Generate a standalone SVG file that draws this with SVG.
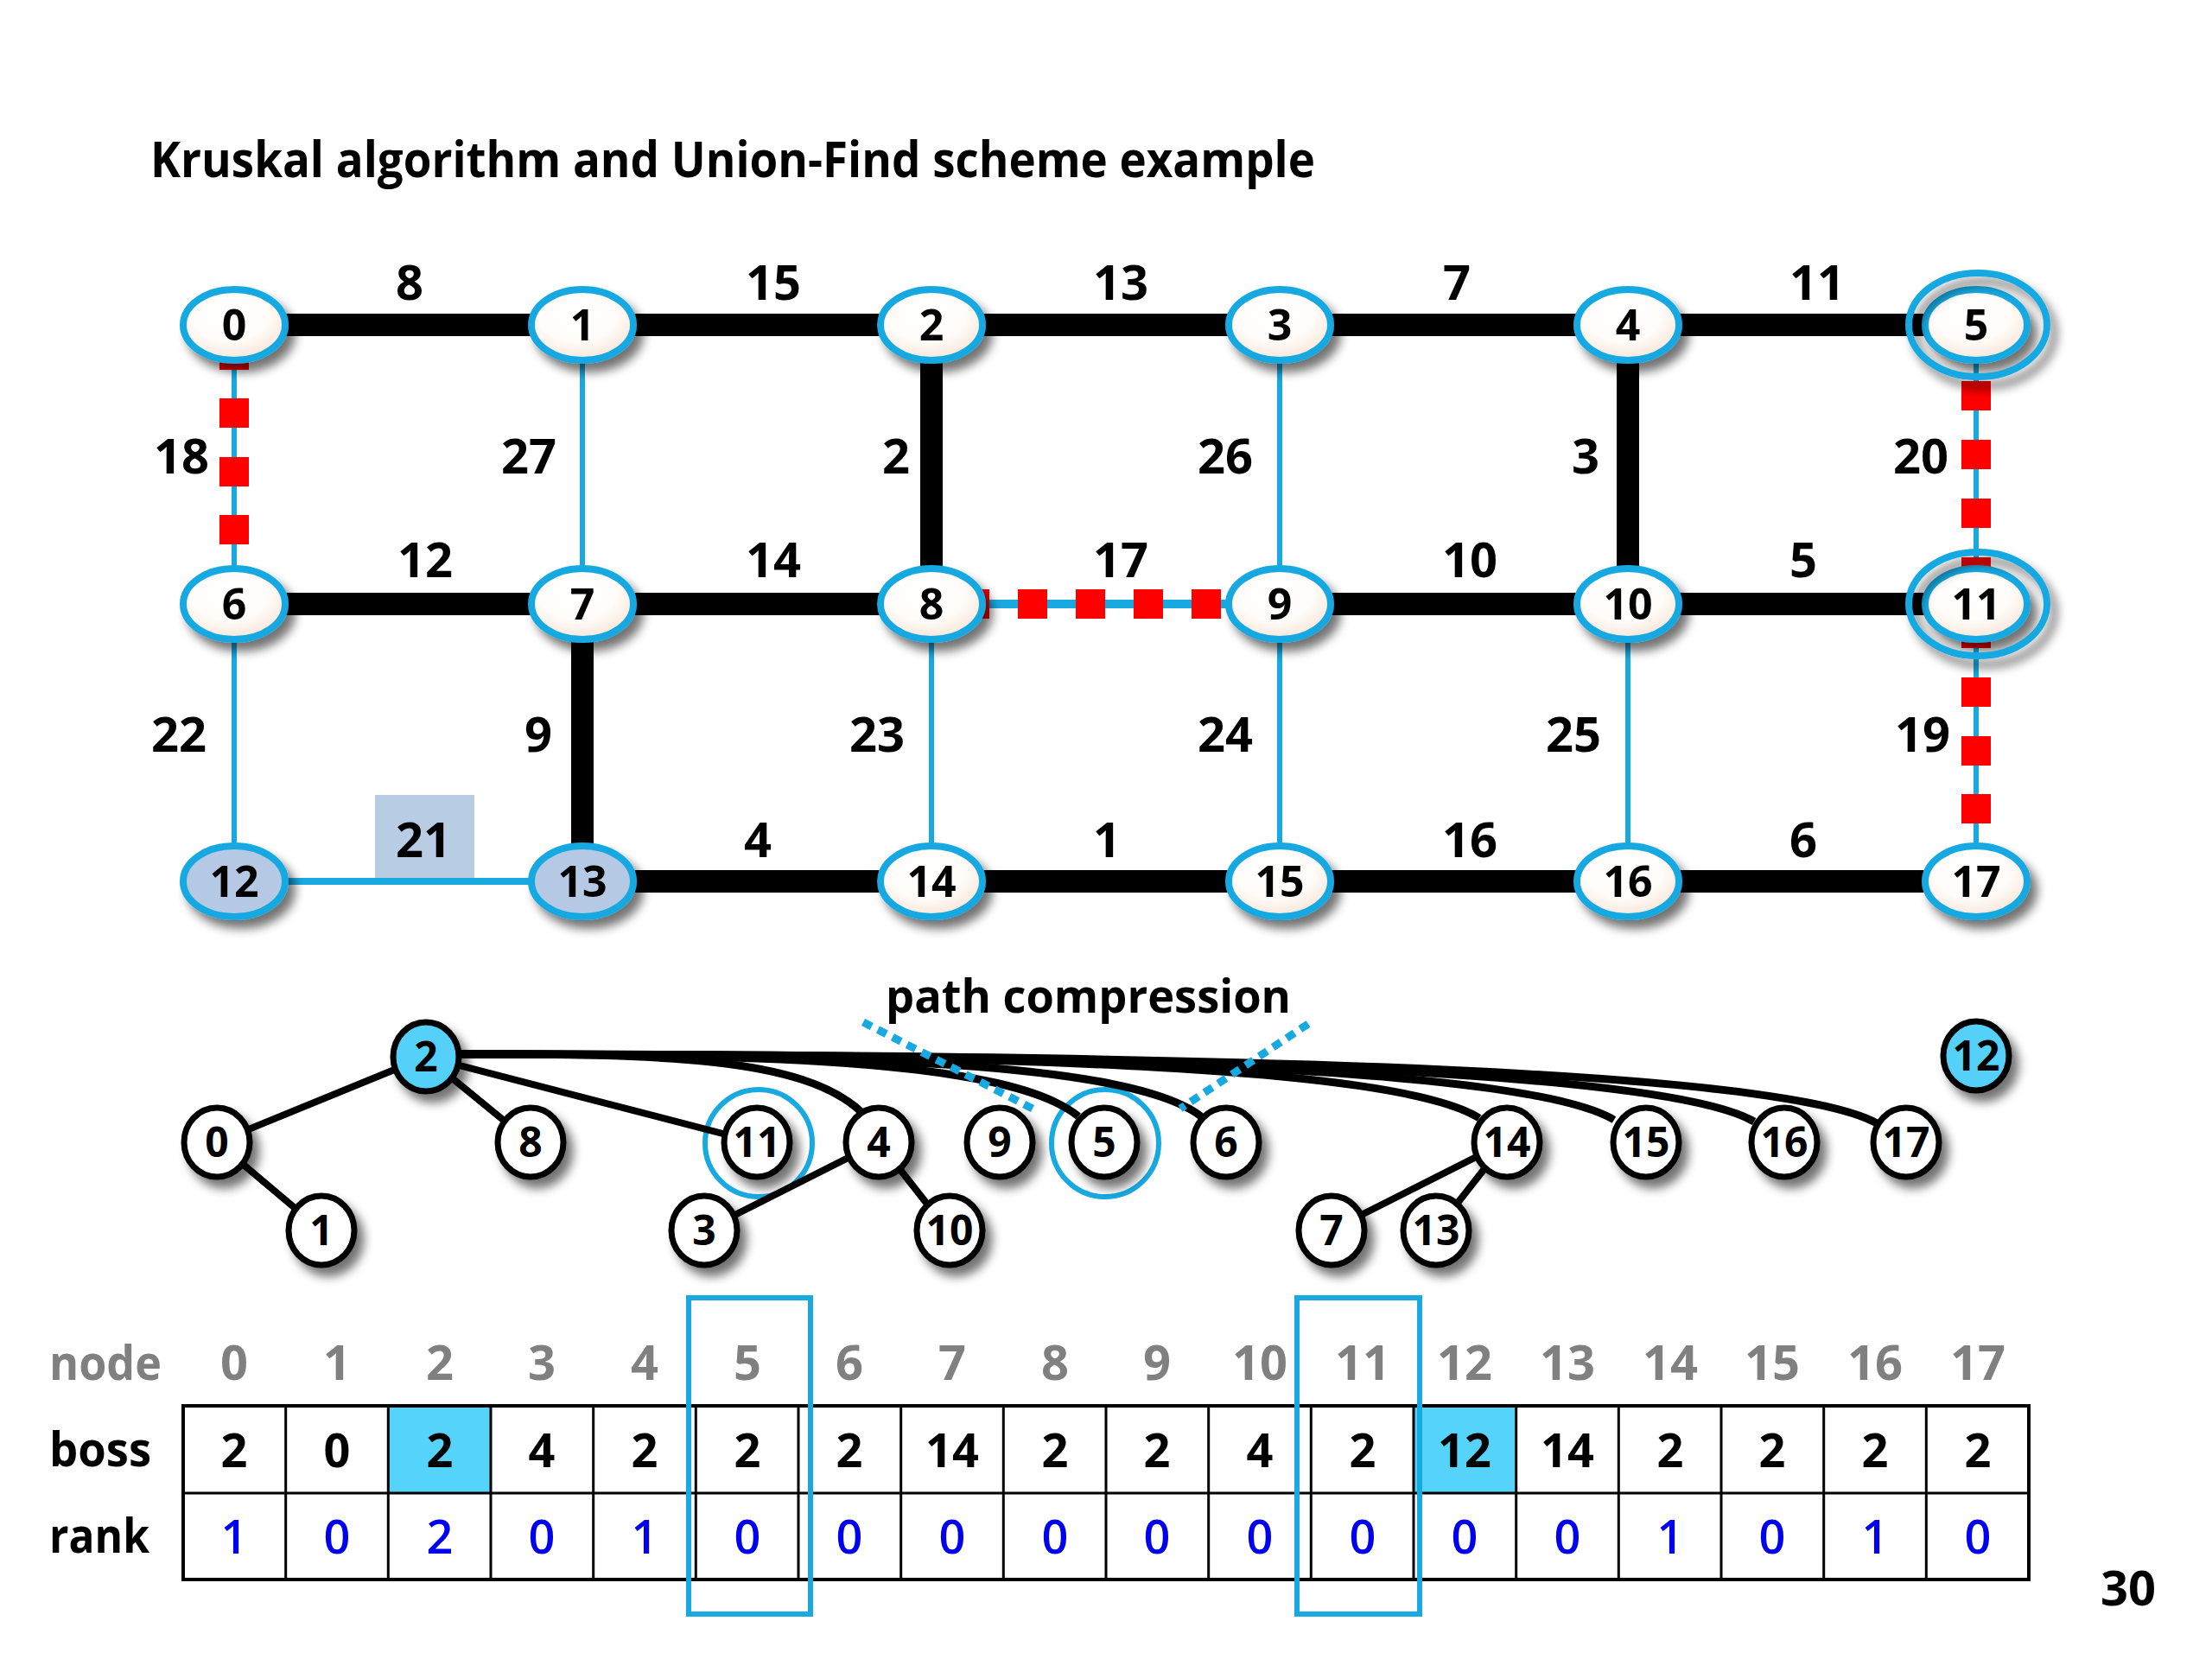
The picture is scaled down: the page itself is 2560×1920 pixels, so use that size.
<svg xmlns="http://www.w3.org/2000/svg" width="2560" height="1920" viewBox="0 0 2560 1920">
<defs>
<radialGradient id="peach" cx="45%" cy="35%" r="70%">
<stop offset="0" stop-color="#FFFFFF"/>
<stop offset="0.55" stop-color="#FFFCF9"/>
<stop offset="1" stop-color="#F6E2D3"/>
</radialGradient>
<filter id="sh" x="-40%" y="-40%" width="190%" height="190%">
<feGaussianBlur in="SourceAlpha" stdDeviation="6"/>
<feOffset dx="8" dy="10" result="o"/>
<feComponentTransfer><feFuncA type="linear" slope="0.55"/></feComponentTransfer>
<feMerge><feMergeNode/><feMergeNode in="SourceGraphic"/></feMerge>
</filter>
<filter id="rsh" x="-30%" y="-30%" width="160%" height="160%">
<feGaussianBlur in="SourceAlpha" stdDeviation="3"/>
<feOffset dx="5" dy="6" result="o"/>
<feComponentTransfer><feFuncA type="linear" slope="0.45"/></feComponentTransfer>
<feMerge><feMergeNode/><feMergeNode in="SourceGraphic"/></feMerge>
</filter>
</defs>
<style>
text{font-family:"Open Sans","Noto Sans","Liberation Sans",sans-serif;font-weight:bold;}
.blk{stroke:#000;stroke-width:26;fill:none;}
.cy{stroke:#18A9E1;stroke-width:6;fill:none;}
.rd{fill:#FF0000;}
.w{font-size:56px;text-anchor:middle;fill:#000;}
.gn ellipse{fill:url(#peach);stroke:#18A9E1;stroke-width:8;filter:url(#sh);}
.gn.sel ellipse{fill:#B6C9E4;}
.gn text{font-size:50px;text-anchor:middle;fill:#000;}
.ring{fill:none;stroke:#18A9E1;stroke-width:6;filter:url(#rsh);}
.te{stroke:#000;stroke-width:8;fill:none;stroke-linecap:round;}
.tc{stroke:#000;stroke-width:9;fill:none;}
.tn ellipse{fill:#fff;stroke:#000;stroke-width:7;filter:url(#sh);}
.tn.root ellipse{fill:#55D0F8;}
.tn text{font-size:48px;text-anchor:middle;fill:#000;}
.tring{fill:none;stroke:#18A9E1;stroke-width:6;}
.dot{stroke:#18A9E1;stroke-width:9;stroke-dasharray:11 8;fill:none;}
.hd{font-size:56px;text-anchor:middle;fill:#808080;}
.bv{font-size:54px;text-anchor:middle;fill:#000;}
.rv{font-size:54px;text-anchor:middle;fill:#0000EE;font-weight:600;}
.lab{font-size:56px;fill:#000;}
.cell{fill:#fff;stroke:#000;stroke-width:3;}
.hl{fill:#55D3FB;}
.colbox{fill:none;stroke:#18A9E1;stroke-width:6;}
</style>
<rect width="2560" height="1920" fill="#fff"/>
<text id="title" x="174" y="205" style="font-size:57px" textLength="1348" lengthAdjust="spacingAndGlyphs">Kruskal algorithm and Union-Find scheme example</text>

<g id="connectors">
<g id="grid-edges">
<line class="cy" x1="674" y1="376" x2="674" y2="699"/>
<line class="cy" x1="1481" y1="376" x2="1481" y2="699"/>
<line class="cy" x1="271" y1="376" x2="271" y2="699"/>
<line class="cy" x1="2287" y1="376" x2="2287" y2="699"/>
<line class="cy" x1="271" y1="699" x2="271" y2="1020"/>
<line class="cy" x1="1078" y1="699" x2="1078" y2="1020"/>
<line class="cy" x1="1481" y1="699" x2="1481" y2="1020"/>
<line class="cy" x1="1884" y1="699" x2="1884" y2="1020"/>
<line class="cy" x1="2287" y1="699" x2="2287" y2="1020"/>
<line class="cy" x1="1078" y1="699" x2="1481" y2="699" style="stroke-width:10"/>
<line class="cy" x1="271" y1="1020" x2="674" y2="1020" style="stroke-width:8"/>
<rect class="rd" x="254" y="394" width="34" height="34"/>
<rect class="rd" x="254" y="461" width="34" height="34"/>
<rect class="rd" x="254" y="529" width="34" height="34"/>
<rect class="rd" x="254" y="596" width="34" height="34"/>
<rect class="rd" x="2270" y="441" width="34" height="34"/>
<rect class="rd" x="2270" y="509" width="34" height="34"/>
<rect class="rd" x="2270" y="577" width="34" height="34"/>
<rect class="rd" x="2270" y="645" width="34" height="34"/>
<rect class="rd" x="2270" y="716" width="34" height="34"/>
<rect class="rd" x="2270" y="784" width="34" height="34"/>
<rect class="rd" x="2270" y="852" width="34" height="34"/>
<rect class="rd" x="2270" y="919" width="34" height="34"/>
<rect class="rd" x="1111" y="682" width="34" height="34"/>
<rect class="rd" x="1178" y="682" width="34" height="34"/>
<rect class="rd" x="1245" y="682" width="34" height="34"/>
<rect class="rd" x="1312" y="682" width="34" height="34"/>
<rect class="rd" x="1379" y="682" width="34" height="34"/>
<line class="blk" x1="271" y1="376" x2="2287" y2="376"/>
<line class="blk" x1="271" y1="699" x2="1078" y2="699"/>
<line class="blk" x1="1481" y1="699" x2="2287" y2="699"/>
<line class="blk" x1="674" y1="1020" x2="2287" y2="1020"/>
<line class="blk" x1="1078" y1="376" x2="1078" y2="699"/>
<line class="blk" x1="1884" y1="376" x2="1884" y2="699"/>
<line class="blk" x1="674" y1="699" x2="674" y2="1020"/>
</g>
<g id="tree-edges">
<circle class="tring" cx="878" cy="1323" r="62"/>
<circle class="tring" cx="1279" cy="1323" r="62"/>
<line class="te" x1="493" y1="1223" x2="251" y2="1322"/>
<line class="te" x1="493" y1="1223" x2="614" y2="1322"/>
<line class="te" x1="493" y1="1223" x2="875" y2="1322"/>
<line class="te" x1="251" y1="1322" x2="372" y2="1424"/>
<line class="te" x1="1017" y1="1322" x2="815" y2="1424"/>
<line class="te" x1="1017" y1="1322" x2="1097" y2="1424"/>
<line class="te" x1="1742" y1="1322" x2="1540" y2="1424"/>
<line class="te" x1="1742" y1="1322" x2="1662" y2="1424"/>
<path class="tc" d="M532,1220 C760,1220 930,1222 998,1288"/>
<path class="tc" d="M532,1220 C900,1220 1170,1228 1248,1292"/>
<path class="tc" d="M532,1220 C1000,1220 1310,1230 1390,1292"/>
<path class="tc" d="M532,1220 C1200,1220 1620,1236 1712,1294"/>
<path class="tc" d="M532,1220 C1300,1220 1770,1238 1868,1296"/>
<path class="tc" d="M532,1220 C1400,1220 1930,1240 2030,1298"/>
<path class="tc" d="M532,1220 C1500,1220 2070,1242 2172,1300"/>
<line class="dot" x1="999" y1="1183" x2="1199" y2="1285"/>
<line class="dot" x1="1514" y1="1185" x2="1366" y2="1283"/>
</g>
</g>

<g id="weights">
<text class="w" x="474" y="347">8</text>
<text class="w" x="895" y="347">15</text>
<text class="w" x="1297" y="347">13</text>
<text class="w" x="1686" y="347">7</text>
<text class="w" x="2103" y="347">11</text>
<text class="w" x="210" y="548">18</text>
<text class="w" x="612" y="548">27</text>
<text class="w" x="1037" y="548">2</text>
<text class="w" x="1418" y="548">26</text>
<text class="w" x="1835" y="548">3</text>
<text class="w" x="2223" y="548">20</text>
<text class="w" x="492" y="668">12</text>
<text class="w" x="895" y="668">14</text>
<text class="w" x="1297" y="668">17</text>
<text class="w" x="1701" y="668">10</text>
<text class="w" x="2087" y="668">5</text>
<text class="w" x="207" y="870">22</text>
<text class="w" x="623" y="870">9</text>
<text class="w" x="1015" y="870">23</text>
<text class="w" x="1418" y="870">24</text>
<text class="w" x="1821" y="870">25</text>
<text class="w" x="2225" y="870">19</text>
<rect x="434" y="920" width="115" height="96" fill="#B8CCE4"/>
<text class="w" x="490" y="992">21</text>
<text class="w" x="877" y="992">4</text>
<text class="w" x="1281" y="992">1</text>
<text class="w" x="1701" y="992">16</text>
<text class="w" x="2087" y="992">6</text>
</g>

<g id="grid-nodes">
<g id="g0" class="gn"><ellipse cx="271" cy="376" rx="59" ry="41"/><text x="271" y="394">0</text></g>
<g id="g1" class="gn"><ellipse cx="674" cy="376" rx="59" ry="41"/><text x="674" y="394">1</text></g>
<g id="g2" class="gn"><ellipse cx="1078" cy="376" rx="59" ry="41"/><text x="1078" y="394">2</text></g>
<g id="g3" class="gn"><ellipse cx="1481" cy="376" rx="59" ry="41"/><text x="1481" y="394">3</text></g>
<g id="g4" class="gn"><ellipse cx="1884" cy="376" rx="59" ry="41"/><text x="1884" y="394">4</text></g>
<g id="g5" class="gn"><ellipse cx="2287" cy="376" rx="59" ry="41"/><text x="2287" y="394">5</text><ellipse class="ring" cx="2289" cy="376" rx="80" ry="60" style="fill:none"/></g>
<g id="g6" class="gn"><ellipse cx="271" cy="699" rx="59" ry="41"/><text x="271" y="717">6</text></g>
<g id="g7" class="gn"><ellipse cx="674" cy="699" rx="59" ry="41"/><text x="674" y="717">7</text></g>
<g id="g8" class="gn"><ellipse cx="1078" cy="699" rx="59" ry="41"/><text x="1078" y="717">8</text></g>
<g id="g9" class="gn"><ellipse cx="1481" cy="699" rx="59" ry="41"/><text x="1481" y="717">9</text></g>
<g id="g10" class="gn"><ellipse cx="1884" cy="699" rx="59" ry="41"/><text x="1884" y="717">10</text></g>
<g id="g11" class="gn"><ellipse cx="2287" cy="699" rx="59" ry="41"/><text x="2287" y="717">11</text><ellipse class="ring" cx="2289" cy="699" rx="80" ry="60" style="fill:none"/></g>
<g id="g12" class="gn sel"><ellipse cx="271" cy="1020" rx="59" ry="41"/><text x="271" y="1038">12</text></g>
<g id="g13" class="gn sel"><ellipse cx="674" cy="1020" rx="59" ry="41"/><text x="674" y="1038">13</text></g>
<g id="g14" class="gn"><ellipse cx="1078" cy="1020" rx="59" ry="41"/><text x="1078" y="1038">14</text></g>
<g id="g15" class="gn"><ellipse cx="1481" cy="1020" rx="59" ry="41"/><text x="1481" y="1038">15</text></g>
<g id="g16" class="gn"><ellipse cx="1884" cy="1020" rx="59" ry="41"/><text x="1884" y="1038">16</text></g>
<g id="g17" class="gn"><ellipse cx="2287" cy="1020" rx="59" ry="41"/><text x="2287" y="1038">17</text></g>
</g>

<text id="pc" x="1025" y="1172" style="font-size:53px" textLength="469" lengthAdjust="spacingAndGlyphs">path compression</text>

<g id="tree-nodes">
<g id="t2" class="tn root"><ellipse cx="493" cy="1223" rx="38" ry="40"/><text x="493" y="1240">2</text></g>
<g id="t12" class="tn root"><ellipse cx="2287" cy="1222" rx="38" ry="40"/><text x="2287" y="1239">12</text></g>
<g id="t0" class="tn"><ellipse cx="251" cy="1322" rx="38" ry="40"/><text x="251" y="1339">0</text></g>
<g id="t8" class="tn"><ellipse cx="614" cy="1322" rx="38" ry="40"/><text x="614" y="1339">8</text></g>
<g id="t11" class="tn"><ellipse cx="876" cy="1322" rx="38" ry="40"/><text x="876" y="1339">11</text></g>
<g id="t4" class="tn"><ellipse cx="1017" cy="1322" rx="38" ry="40"/><text x="1017" y="1339">4</text></g>
<g id="t9" class="tn"><ellipse cx="1157" cy="1322" rx="38" ry="40"/><text x="1157" y="1339">9</text></g>
<g id="t5" class="tn"><ellipse cx="1278" cy="1322" rx="38" ry="40"/><text x="1278" y="1339">5</text></g>
<g id="t6" class="tn"><ellipse cx="1419" cy="1322" rx="38" ry="40"/><text x="1419" y="1339">6</text></g>
<g id="t14" class="tn"><ellipse cx="1744" cy="1322" rx="38" ry="40"/><text x="1744" y="1339">14</text></g>
<g id="t15" class="tn"><ellipse cx="1905" cy="1322" rx="38" ry="40"/><text x="1905" y="1339">15</text></g>
<g id="t16" class="tn"><ellipse cx="2065" cy="1322" rx="38" ry="40"/><text x="2065" y="1339">16</text></g>
<g id="t17" class="tn"><ellipse cx="2206" cy="1322" rx="38" ry="40"/><text x="2206" y="1339">17</text></g>
<g id="t1" class="tn"><ellipse cx="372" cy="1424" rx="38" ry="40"/><text x="372" y="1441">1</text></g>
<g id="t3" class="tn"><ellipse cx="815" cy="1424" rx="38" ry="40"/><text x="815" y="1441">3</text></g>
<g id="t10" class="tn"><ellipse cx="1099" cy="1424" rx="38" ry="40"/><text x="1099" y="1441">10</text></g>
<g id="t7" class="tn"><ellipse cx="1541" cy="1424" rx="38" ry="40"/><text x="1541" y="1441">7</text></g>
<g id="t13" class="tn"><ellipse cx="1662" cy="1424" rx="38" ry="40"/><text x="1662" y="1441">13</text></g>
</g>

<g id="table">
<text class="lab" x="57" y="1597" style="fill:#808080" textLength="130" lengthAdjust="spacingAndGlyphs">node</text>
<text class="lab" x="57" y="1697" textLength="118" lengthAdjust="spacingAndGlyphs">boss</text>
<text class="lab" x="57" y="1797" textLength="116" lengthAdjust="spacingAndGlyphs">rank</text>
<g id="cells">
<rect class="cell" x="212" y="1627" width="2136" height="201"/>
<rect class="hl" x="449.3" y="1627" width="118.7" height="101"/>
<rect class="hl" x="1636" y="1627" width="118.7" height="101"/>
<path d="M212,1728H2348 M330.7,1627V1828 M449.3,1627V1828 M568,1627V1828 M686.7,1627V1828 M805.3,1627V1828 M924,1627V1828 M1042.7,1627V1828 M1161.3,1627V1828 M1280,1627V1828 M1398.7,1627V1828 M1517.3,1627V1828 M1636,1627V1828 M1754.7,1627V1828 M1873.3,1627V1828 M1992,1627V1828 M2110.7,1627V1828 M2229.3,1627V1828" stroke="#000" stroke-width="3" fill="none"/>
<rect x="212" y="1627" width="2136" height="201" fill="none" stroke="#000" stroke-width="4"/>
</g>
<g id="hdr">
<text class="hd" x="271" y="1597">0</text><text class="hd" x="390" y="1597">1</text><text class="hd" x="509" y="1597">2</text><text class="hd" x="627" y="1597">3</text><text class="hd" x="746" y="1597">4</text><text class="hd" x="865" y="1597">5</text><text class="hd" x="983" y="1597">6</text><text class="hd" x="1102" y="1597">7</text><text class="hd" x="1221" y="1597">8</text><text class="hd" x="1339" y="1597">9</text><text class="hd" x="1458" y="1597">10</text><text class="hd" x="1577" y="1597">11</text><text class="hd" x="1695" y="1597">12</text><text class="hd" x="1814" y="1597">13</text><text class="hd" x="1933" y="1597">14</text><text class="hd" x="2051" y="1597">15</text><text class="hd" x="2170" y="1597">16</text><text class="hd" x="2289" y="1597">17</text>
</g>
<g id="boss">
<text class="bv" x="271" y="1698">2</text><text class="bv" x="390" y="1698">0</text><text class="bv" x="509" y="1698">2</text><text class="bv" x="627" y="1698">4</text><text class="bv" x="746" y="1698">2</text><text class="bv" x="865" y="1698">2</text><text class="bv" x="983" y="1698">2</text><text class="bv" x="1102" y="1698">14</text><text class="bv" x="1221" y="1698">2</text><text class="bv" x="1339" y="1698">2</text><text class="bv" x="1458" y="1698">4</text><text class="bv" x="1577" y="1698">2</text><text class="bv" x="1695" y="1698">12</text><text class="bv" x="1814" y="1698">14</text><text class="bv" x="1933" y="1698">2</text><text class="bv" x="2051" y="1698">2</text><text class="bv" x="2170" y="1698">2</text><text class="bv" x="2289" y="1698">2</text>
</g>
<g id="rank">
<text class="rv" x="271" y="1798">1</text><text class="rv" x="390" y="1798">0</text><text class="rv" x="509" y="1798">2</text><text class="rv" x="627" y="1798">0</text><text class="rv" x="746" y="1798">1</text><text class="rv" x="865" y="1798">0</text><text class="rv" x="983" y="1798">0</text><text class="rv" x="1102" y="1798">0</text><text class="rv" x="1221" y="1798">0</text><text class="rv" x="1339" y="1798">0</text><text class="rv" x="1458" y="1798">0</text><text class="rv" x="1577" y="1798">0</text><text class="rv" x="1695" y="1798">0</text><text class="rv" x="1814" y="1798">0</text><text class="rv" x="1933" y="1798">1</text><text class="rv" x="2051" y="1798">0</text><text class="rv" x="2170" y="1798">1</text><text class="rv" x="2289" y="1798">0</text>
</g>
<rect class="colbox" x="797" y="1502" width="141" height="366"/>
<rect class="colbox" x="1501" y="1502" width="142" height="366"/>
</g>
<text id="page" x="2463" y="1858" style="font-size:56px;text-anchor:middle">30</text>
</svg>
